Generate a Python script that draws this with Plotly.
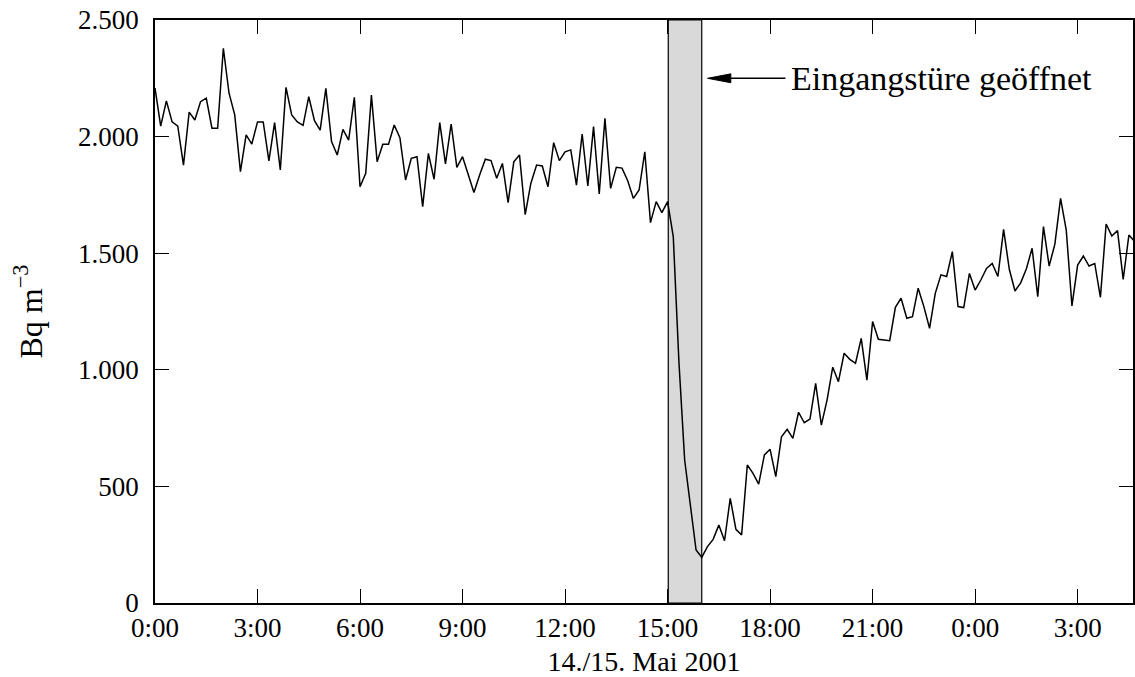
import plotly.graph_objects as go

# Radon concentration, 10-minute intervals starting 14 May 2001 0:00
interval_hours = 1 / 6
radon = [
    2208, 2045, 2153, 2063, 2045, 1878, 2105, 2071, 2150, 2165,
    2036, 2036, 2379, 2186, 2093, 1850, 2007, 1968, 2063, 2063,
    1896, 2060, 1857, 2211, 2093, 2063, 2048, 2171, 2068, 2028,
    2207, 1979, 1921, 2031, 1985, 2168, 1785, 1843, 2178, 1892,
    1967, 1967, 2050, 1995, 1814, 1907, 1914, 1700, 1928, 1817,
    2060, 1883, 2054, 1868, 1914, 1835, 1760, 1835, 1903, 1897,
    1821, 1885, 1717, 1892, 1921, 1665, 1800, 1878, 1874, 1785,
    1974, 1897, 1935, 1943, 1792, 2011, 1788, 2043, 1754, 2078,
    1778, 1868, 1865, 1811, 1735, 1771, 1935, 1631, 1721, 1674,
    1721, 1571, 1030, 613, 415, 227, 196, 242, 273, 334,
    267, 449, 316, 292, 592, 556, 510, 635, 659, 542,
    713, 745, 706, 818, 773, 789, 942, 763, 870, 1011,
    949, 1071, 1045, 1028, 1135, 956, 1207, 1131, 1128, 1125,
    1268, 1307, 1221, 1228, 1350, 1271, 1178, 1328, 1407, 1400,
    1507, 1271, 1267, 1413, 1342, 1385, 1435, 1456, 1400, 1602,
    1431, 1338, 1373, 1433, 1521, 1314, 1614, 1445, 1539, 1735,
    1599, 1274, 1449, 1488, 1445, 1456, 1311, 1625, 1574, 1597,
    1388, 1578, 1550,
]
hours = [i * interval_hours for i in range(len(radon))]

x_tick_vals = [0, 3, 6, 9, 12, 15, 18, 21, 24, 27]
x_tick_text = ["0:00", "3:00", "6:00", "9:00", "12:00", "15:00", "18:00", "21:00", "0:00", "3:00"]
y_tick_vals = [0, 500, 1000, 1500, 2000, 2500]
y_tick_text = ["0", "500", "1.000", "1.500", "2.000", "2.500"]

door_open = [15.02, 16.0]
annotation_text = "Eingangstüre geöffnet"
arrow_y = 2250
arrow_tip_x = 16.17
arrow_head_x = 16.85
arrow_tail_x = 18.45

FONT = "Liberation Serif, Times New Roman, serif"

fig = go.Figure()
fig.add_trace(go.Scatter(
    x=hours, y=radon, mode="lines",
    line=dict(color="black", width=1.5),
    showlegend=False, hoverinfo="skip",
))

fig.add_shape(
    type="rect", xref="x", yref="y",
    x0=door_open[0], x1=door_open[1], y0=0, y1=2500,
    fillcolor="#d9d9d9", line=dict(color="black", width=1.2),
    layer="below",
)

# arrow: shaft + slender filled head
fig.add_shape(
    type="line", xref="x", yref="y",
    x0=arrow_head_x - 0.05, x1=arrow_tail_x, y0=arrow_y, y1=arrow_y,
    line=dict(color="black", width=1.5),
)
fig.add_shape(
    type="path", xref="x", yref="y",
    path=f"M {arrow_tip_x},{arrow_y} L {arrow_head_x},{arrow_y + 19} L {arrow_head_x},{arrow_y - 19} Z",
    fillcolor="black", line=dict(color="black", width=1),
)
fig.add_annotation(
    x=arrow_tail_x + 0.1, y=arrow_y, xref="x", yref="y",
    text=annotation_text, showarrow=False,
    xanchor="left", yanchor="middle",
    font=dict(family=FONT, size=34, color="black"),
)

axis_common = dict(
    showline=True, linecolor="black", linewidth=1.5,
    mirror="ticks", ticks="inside", ticklen=14, tickwidth=1.2,
    tickcolor="black", showgrid=False, zeroline=False,
    tickfont=dict(family=FONT, size=27, color="black"),
)

fig.update_layout(
    width=1135, height=677,
    margin=dict(l=155, r=0, t=20, b=74),
    paper_bgcolor="white", plot_bgcolor="white",
    xaxis=dict(
        range=[0, 28.62], tickvals=x_tick_vals, ticktext=x_tick_text,
        title=dict(text="14./15. Mai 2001", font=dict(family=FONT, size=28, color="black"), standoff=10),
        **axis_common,
    ),
    yaxis=dict(
        range=[0, 2500], tickvals=y_tick_vals, ticktext=y_tick_text,
        ticklabelstandoff=9,
        title=dict(text="Bq m<sup>\u22123</sup>", font=dict(family=FONT, size=32, color="black"), standoff=26),
        **axis_common,
    ),
)

fig.write_html("out.html")
